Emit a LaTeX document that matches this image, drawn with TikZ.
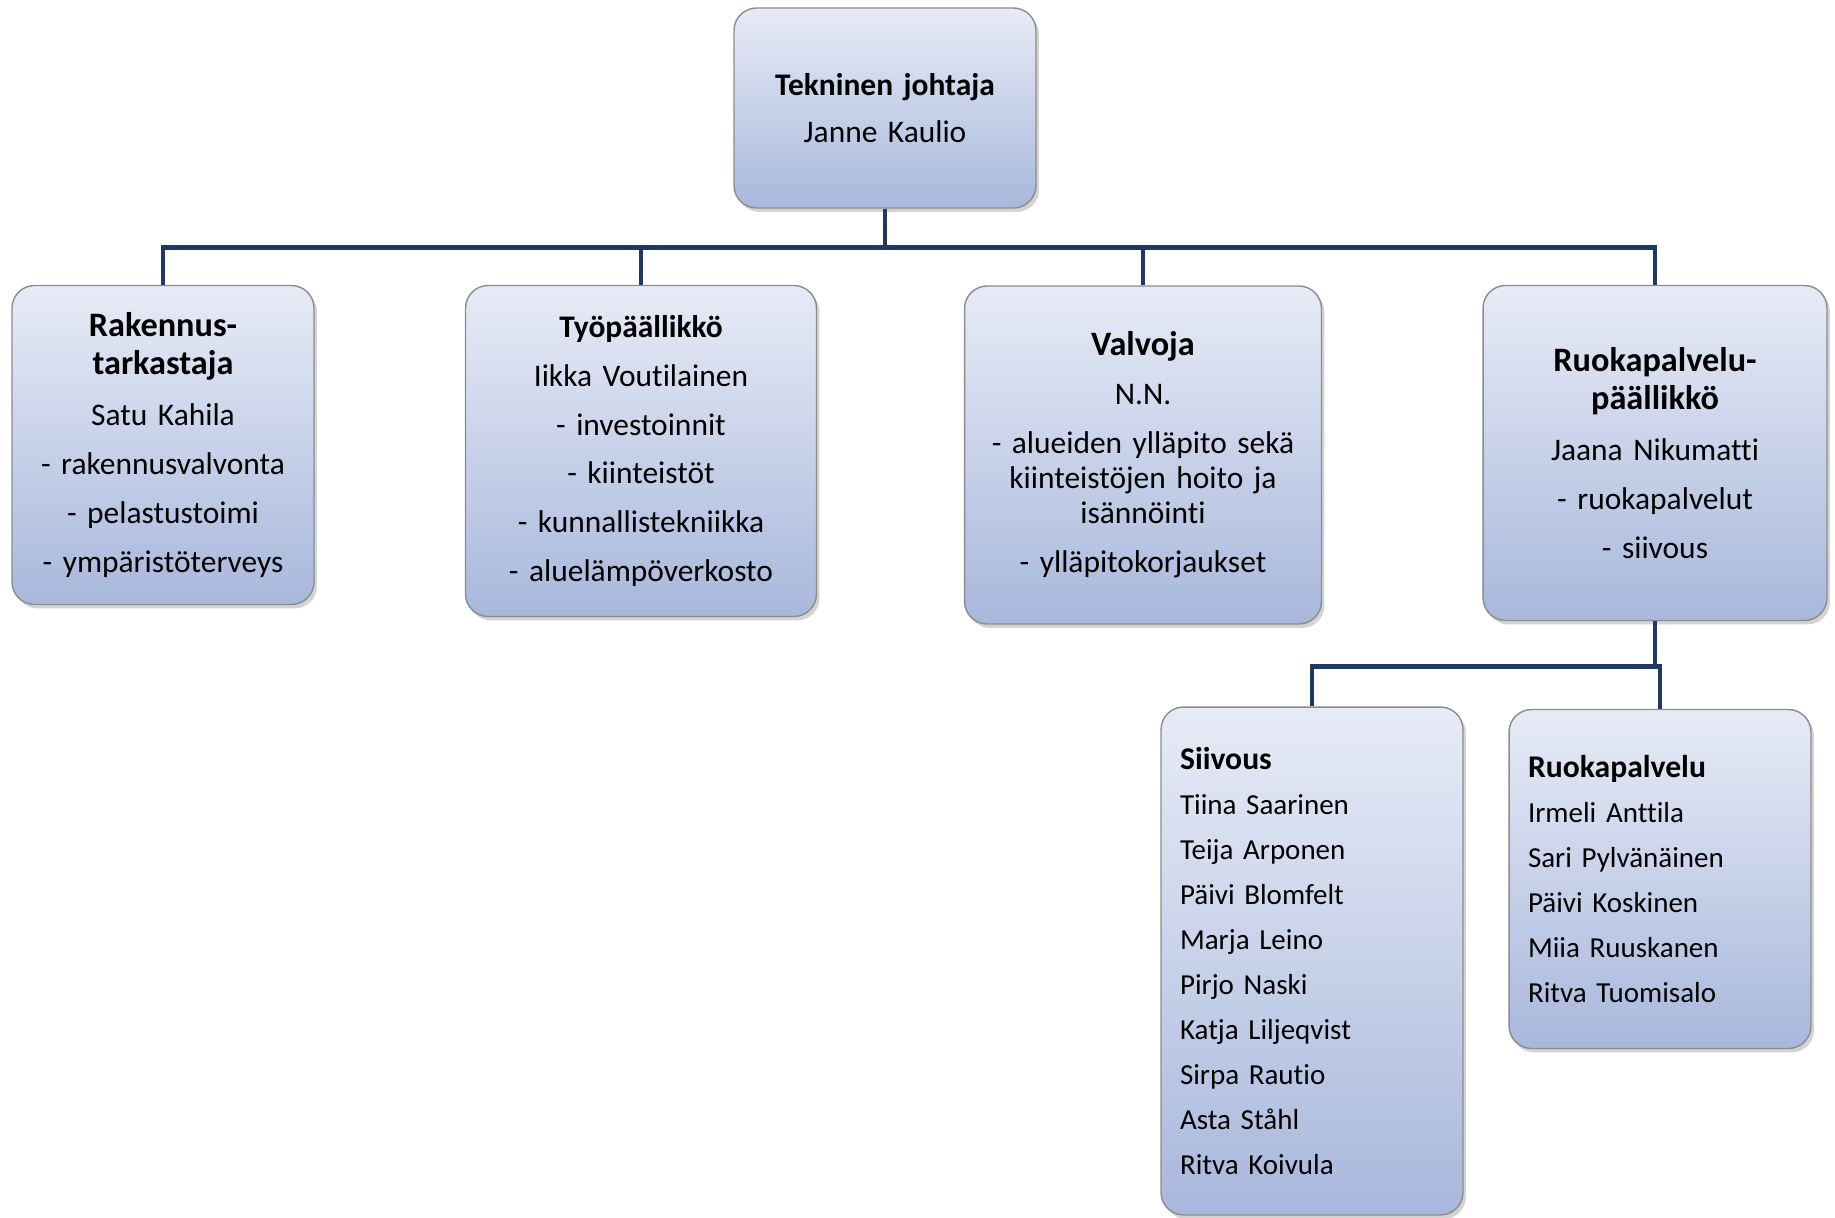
\documentclass[tikz,border=0pt]{standalone}
\usepackage{fontspec}
\setmainfont{Carlito}[Ligatures=NoCommon]
\usetikzlibrary{shadows}
\definecolor{linkblue}{RGB}{31,56,100}
\definecolor{boxtop}{RGB}{231,235,246}
\definecolor{boxbot}{RGB}{168,184,220}
\definecolor{boxedge}{RGB}{140,140,140}
\newcommand{\hdbig}[1]{{\fontsize{19.5}{21.5}\selectfont\bfseries #1}}
\newcommand{\hdlist}[1]{{\fontsize{18}{20.5}\selectfont\bfseries #1}}

\begin{document}
\begin{tikzpicture}[x=0.02cm,y=-0.02cm,
    orgbox/.style={draw=boxedge,line width=0.8pt,rounded corners=0.45cm,
        top color=boxtop,bottom color=boxbot,
        drop shadow={shadow xshift=0.06cm,shadow yshift=-0.08cm,opacity=0.35},
        inner sep=0pt,font=\fontsize{17.9}{20}\selectfont},
    listbox/.style={orgbox,align=left,inner xsep=0.38cm,text width=5.28cm,
        font=\fontsize{16.5}{20.5}\selectfont},
    link/.style={linkblue,line width=2.7pt}]
    \useasboundingbox (0,0) rectangle (1835,1217);

    % top
    \node[orgbox,align=center,text width=6.04cm,minimum height=4cm] (tekn) at (885,108)
        {\textbf{Tekninen johtaja}\\[7.2pt] Janne Kaulio};

    % second row
    \node[orgbox,align=center,text width=6.04cm,minimum height=6.38cm] (rak) at (163,445)
        {\hdbig{Rakennus-}\\[1.2pt] \hdbig{tarkastaja}\\[9.2pt] Satu Kahila\\[7.8pt] - rakennusvalvonta\\[7.8pt]
         - pelastustoimi\\[7.8pt] - ympäristöterveys};
    \node[orgbox,align=center,text width=7.02cm,minimum height=6.62cm] (tyo) at (641,451)
        {\textbf{Työpäällikkö}\\[7.8pt] Iikka Voutilainen\\[7.8pt] - investoinnit\\[7.8pt] - kiinteistöt\\[7.8pt]
         - kunnallistekniikka\\[7.8pt] - aluelämpöverkosto};
    \node[orgbox,align=center,text width=7.14cm,minimum height=6.76cm] (valv) at (1143,455)
        {\hdbig{Valvoja}\\[7.8pt] N.N.\\[7.8pt] - alueiden ylläpito sekä\\ kiinteistöjen hoito ja\\ isännöinti\\[7.8pt]
         - ylläpitokorjaukset};
    \node[orgbox,align=center,text width=6.88cm,minimum height=6.70cm] (ruokap) at (1655,453)
        {\hdbig{Ruokapalvelu-}\\[1.2pt] \hdbig{päällikkö}\\[9.2pt] Jaana Nikumatti\\[7.8pt] - ruokapalvelut\\[7.8pt] - siivous};

    % third row
    \node[listbox,minimum height=10.16cm] (siiv) at (1312,961)
        {\hdlist{Siivous}\\[5.1pt] Tiina Saarinen\\[5.1pt] Teija Arponen\\[5.1pt] Päivi Blomfelt\\[5.1pt]
         Marja Leino\\[5.1pt] Pirjo Naski\\[5.1pt] Katja Liljeqvist\\[5.1pt] Sirpa Rautio\\[5.1pt]
         Asta Ståhl\\[5.1pt] Ritva Koivula};
    \node[listbox,minimum height=6.78cm] (ruoka) at (1660,879)
        {\hdlist{Ruokapalvelu}\\[5.1pt] Irmeli Anttila\\[5.1pt] Sari Pylvänäinen\\[5.1pt] Päivi Koskinen\\[5.1pt]
         Miia Ruuskanen\\[5.1pt] Ritva Tuomisalo};

    \draw[link] (tekn.south) -- ++(0,39) -| (rak.north);
    \draw[link] (tekn.south) -- ++(0,39) -| (tyo.north);
    \draw[link] (tekn.south) -- ++(0,39) -| (valv.north);
    \draw[link] (tekn.south) -- ++(0,39) -| (ruokap.north);
    \draw[link] (ruokap.south) -- ++(0,45) -| (siiv.north);
    \draw[link] (ruokap.south) -- ++(0,45) -| (ruoka.north);
\end{tikzpicture}
\end{document}
